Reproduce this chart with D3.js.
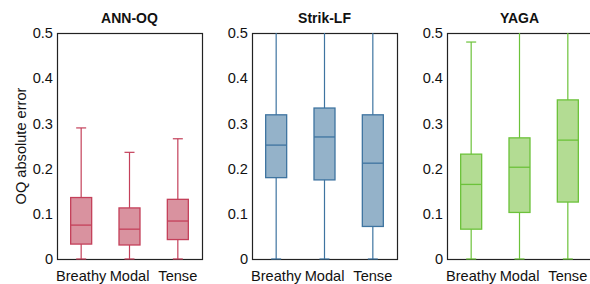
<!DOCTYPE html>
<html>
<head>
<meta charset="utf-8">
<script src="https://cdn.jsdelivr.net/npm/d3@7"></script>
<style>
  body { margin: 0; background: #fff; }
  text { font-family: "Liberation Sans", Arial, Helvetica, sans-serif; }
</style>
</head>
<body>
<div id="chart"></div>
<script>

// categories and tick labels
var categories = ["Breathy", "Modal", "Tense"];
var methods = ["ANN-OQ", "Strik-LF", "YAGA"];
var yTicks = [0, 0.1, 0.2, 0.3, 0.4, 0.5];

// box stats per category: [low whisker, q1, median, q3, high whisker]
// (high whiskers above 0.5 run off the top of the plot)
var annOQ = [
    [0, 0.033, 0.075, 0.136, 0.290],
    [0, 0.031, 0.066, 0.113, 0.236],
    [0, 0.043, 0.084, 0.132, 0.266]
];
var strikLF = [
    [0, 0.180, 0.252, 0.319, 0.60],
    [0, 0.175, 0.270, 0.334, 0.60],
    [0, 0.072, 0.212, 0.319, 0.60]
];
var yaga = [
    [0, 0.066, 0.165, 0.232, 0.480],
    [0, 0.103, 0.203, 0.268, 0.60],
    [0, 0.126, 0.263, 0.352, 0.60]
];

var strokeColors = ["#c4405a", "#3e74a0", "#6cc23a"];
var fillColors = ["#d9929f", "#94b2c9", "#b3dc93"];
var allStats = [annOQ, strikLF, yaga];

// layout
var width = 590, height = 284;
var panelLefts = [57, 252, 447];
var panelWidth = 145;
var plotTop = 33, plotBottom = 259;
var fontSize = 14.6;

var svg = d3.select("#chart")
    .append("svg")
    .attr("width", width)
    .attr("height", height);

var y = d3.scaleLinear()
    .domain([0, 0.5])
    .range([plotBottom, plotTop]);

// y axis label
svg.append("text")
    .attr("transform", "translate(26," + ((plotTop + plotBottom) / 2) + ") rotate(-90)")
    .attr("text-anchor", "middle")
    .attr("font-size", fontSize)
    .attr("fill", "#111")
    .text("OQ absolute error");

methods.forEach(function(name, i) {

    var x = d3.scaleLinear()
        .domain([0.5, 3.5])
        .range([panelLefts[i], panelLefts[i] + panelWidth]);

    var g = svg.append("g");

    // clip so whiskers stop at the top of the box
    g.append("clipPath")
        .attr("id", "clip" + i)
        .append("rect")
        .attr("x", panelLefts[i])
        .attr("y", plotTop)
        .attr("width", panelWidth)
        .attr("height", plotBottom - plotTop + 2);

    // title
    g.append("text")
        .attr("x", panelLefts[i] + panelWidth / 2)
        .attr("y", 23)
        .attr("text-anchor", "middle")
        .attr("font-size", 14)
        .attr("font-weight", "bold")
        .attr("fill", "#111")
        .text(name);

    // y tick labels
    g.selectAll(".ytick")
        .data(yTicks)
        .enter()
        .append("text")
        .attr("x", panelLefts[i] - 4)
        .attr("y", function(d) { return y(d); })
        .attr("dy", "0.35em")
        .attr("text-anchor", "end")
        .attr("font-size", fontSize)
        .attr("fill", "#111")
        .text(function(d) { return d3.format("")(d); });

    // x tick labels
    g.selectAll(".xtick")
        .data(categories)
        .enter()
        .append("text")
        .attr("x", function(d, j) { return x(j + 1); })
        .attr("y", 281)
        .attr("text-anchor", "middle")
        .attr("font-size", fontSize)
        .attr("fill", "#111")
        .text(function(d) { return d; });

    // frame
    g.append("rect")
        .attr("x", panelLefts[i] + 0.5)
        .attr("y", plotTop + 0.5)
        .attr("width", panelWidth)
        .attr("height", plotBottom - plotTop)
        .attr("fill", "none")
        .attr("stroke", "#222")
        .attr("stroke-width", 1.2);

    var boxW = 21;
    var capW = 10;
    var boxes = g.append("g")
        .attr("clip-path", "url(#clip" + i + ")")
        .selectAll("g")
        .data(allStats[i])
        .enter()
        .append("g");

    // whiskers
    boxes.append("line")
        .attr("x1", function(d, j) { return x(j + 1); })
        .attr("x2", function(d, j) { return x(j + 1); })
        .attr("y1", function(d) { return y(d[0]); })
        .attr("y2", function(d) { return y(d[4]); })
        .attr("stroke", strokeColors[i])
        .attr("stroke-width", 1.2);

    // caps
    [0, 4].forEach(function(k) {
        boxes.append("line")
            .attr("x1", function(d, j) { return x(j + 1) - capW / 2; })
            .attr("x2", function(d, j) { return x(j + 1) + capW / 2; })
            .attr("y1", function(d) { return y(d[k]); })
            .attr("y2", function(d) { return y(d[k]); })
            .attr("stroke", strokeColors[i])
            .attr("stroke-width", 1.2);
    });

    // box
    boxes.append("rect")
        .attr("x", function(d, j) { return x(j + 1) - boxW / 2; })
        .attr("y", function(d) { return y(d[3]); })
        .attr("width", boxW)
        .attr("height", function(d) { return y(d[1]) - y(d[3]); })
        .attr("fill", fillColors[i])
        .attr("stroke", strokeColors[i])
        .attr("stroke-width", 1.3);

    // median
    boxes.append("line")
        .attr("x1", function(d, j) { return x(j + 1) - boxW / 2; })
        .attr("x2", function(d, j) { return x(j + 1) + boxW / 2; })
        .attr("y1", function(d) { return y(d[2]); })
        .attr("y2", function(d) { return y(d[2]); })
        .attr("stroke", strokeColors[i])
        .attr("stroke-width", 1.3);
});

</script>
</body>
</html>
